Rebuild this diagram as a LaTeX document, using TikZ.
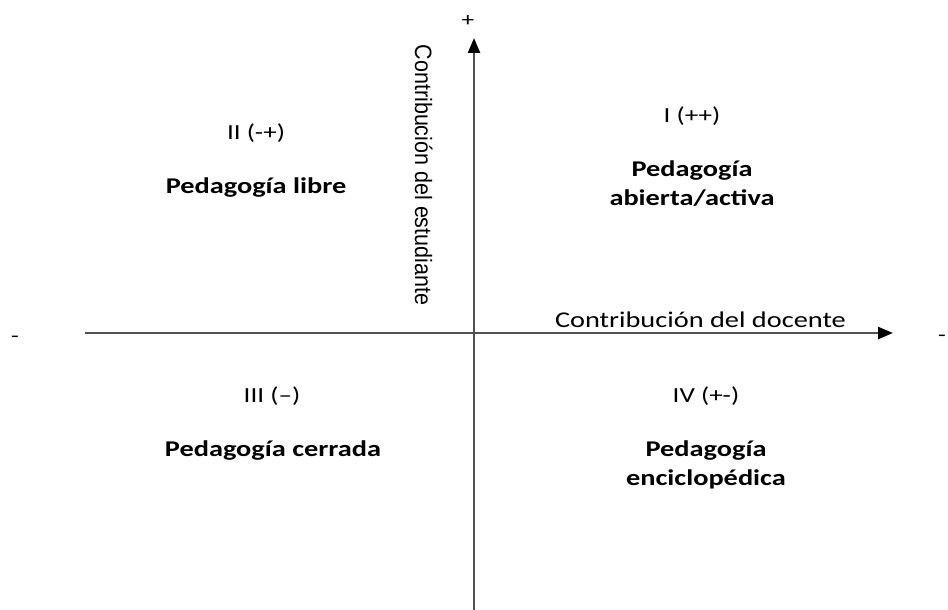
\documentclass[tikz,border=0pt]{standalone}
\usepackage{fontspec}
\setmainfont{Carlito}[FakeStretch=1.26]
\newfontfamily\vertfont{Liberation Sans}
\usetikzlibrary{arrows.meta}
\tikzset{
  axis/.style={draw=black!68, line width=2.4pt, -{Triangle[length=15pt,width=12pt,color=black]}},
  quad/.style={anchor=base, font=\fontsize{21.5}{26}\selectfont},
  pedag/.style={anchor=base, font=\fontsize{22.5}{29}\selectfont\bfseries},
  sign/.style={inner sep=0pt, font=\fontsize{20}{24}\selectfont}
}
\begin{document}
\begin{tikzpicture}[x=1pt,y=-1pt]
  \useasboundingbox (0,0) rectangle (948,610);
  % ejes
  \coordinate (xl) at (85,333);
  \coordinate (xr) at (893,333);
  \coordinate (yb) at (474,612);
  \coordinate (yt) at (474,38);
  \draw[axis] (xl) -- (xr);
  \draw[axis] (yb) -- (yt);
  \node[sign] (mas) at (468,21) {+};
  \node[sign] (menosl) at (15,339) {-};
  \node[sign] (menosr) at (942,338) {-};
  \node[anchor=base, font=\fontsize{22.5}{27}\selectfont] (docente) at (700.5,327) {Contribución del docente};
  \node[anchor=base, xscale=1.1, rotate=-90, font=\vertfont\fontsize{21.5}{26}\selectfont] (estudiante) at (415,175) {Contribución del estudiante};
  % cuadrantes
  \node[quad] (q1) at (692,122) {I (++)};
  \node[pedag] (p1a) at (692,176) {Pedagogía};
  \node[pedag] (p1b) at (692,205) {abierta/activa};
  \node[quad] (q2) at (256,139) {II (-+)};
  \node[pedag] (p2) at (256,193) {Pedagogía libre};
  \node[quad] (q3) at (272,402) {III (--)};
  \node[pedag] (p3) at (273,456) {Pedagogía cerrada};
  \node[quad] (q4) at (706,402) {IV (+-)};
  \node[pedag] (p4a) at (706,456) {Pedagogía};
  \node[pedag] (p4b) at (706,485) {enciclopédica};
\end{tikzpicture}
\end{document}
